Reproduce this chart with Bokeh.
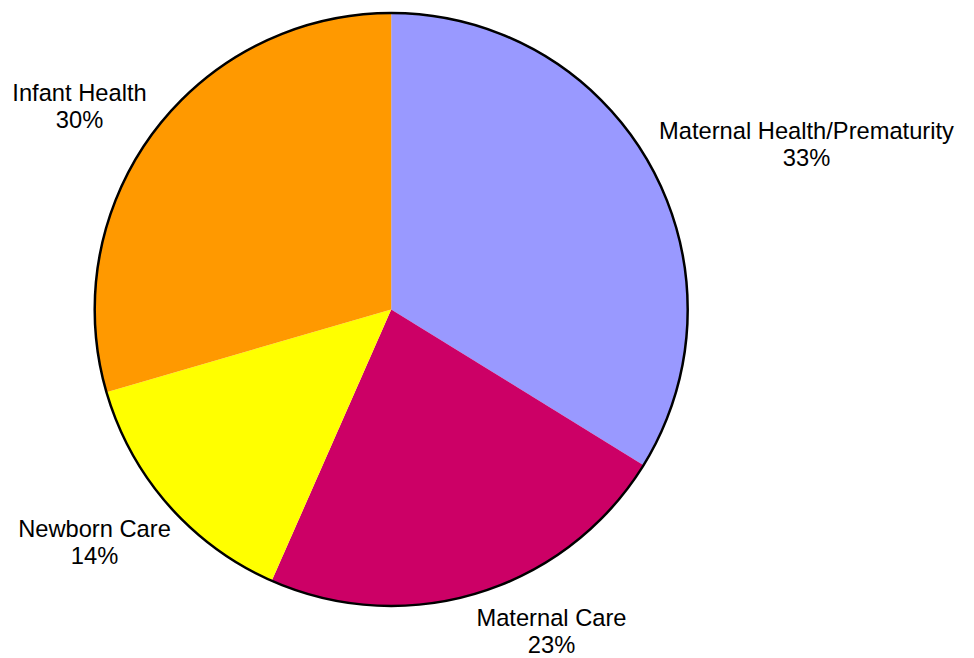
import math
from bokeh.plotting import figure
from bokeh.models import Range1d, ColumnDataSource
from bokeh.core.properties import value
from bokeh.embed import file_html
from bokeh.resources import INLINE

# Data
categories = ["Maternal Health/Prematurity", "Maternal Care", "Newborn Care", "Infant Health"]
shares = [33.8, 22.8, 13.9, 29.5]
pct_labels = ["33%", "23%", "14%", "30%"]
colors = ["#9999FF", "#CC0066", "#FFFF00", "#FF9900"]

# Layout (page pixel coordinates, y measured downward; y = vertical centre of first line)
W, H = 974, 658
cx, cy, r = 390.7, 309.0, 296.5
label_pos = [(806, 130), (551, 617.5), (94, 528), (79, 92)]
line_gap = [27.5, 26.5, 27.5, 27.5]

def Y(y):
    return H - y

total = sum(shares)
starts, ends = [], []
cum = 0.0
for s in shares:
    starts.append(math.pi / 2 - 2 * math.pi * cum / total)
    cum += s
    ends.append(math.pi / 2 - 2 * math.pi * cum / total)

src = ColumnDataSource(dict(
    start=starts, end=ends, color=colors, cat=categories, pct=pct_labels,
    lx=[p[0] for p in label_pos], ly1=[Y(p[1]) for p in label_pos],
    ly2=[Y(p[1] + g) for p, g in zip(label_pos, line_gap)],
))

p = figure(width=W, height=H, output_backend="svg", toolbar_location=None,
           x_range=Range1d(0, W), y_range=Range1d(0, H),
           min_border=0, min_border_left=0, min_border_right=0,
           min_border_top=0, min_border_bottom=0)
p.axis.visible = False
p.grid.visible = False
p.outline_line_color = None
p.background_fill_color = "white"
p.border_fill_color = "white"

p.wedge(x=cx, y=Y(cy), radius=r, start_angle="start", end_angle="end",
        direction="clock", fill_color="color", line_color=None, source=src)
p.circle(x=[cx], y=[Y(cy)], radius=r, fill_color=None, line_color="black", line_width=2.5)

font = value("Liberation Sans")
p.text(x="lx", y="ly1", text="cat", source=src, text_font=font, text_font_size="23.7px",
       text_align="center", text_baseline="middle", text_color="black")
p.text(x="lx", y="ly2", text="pct", source=src, text_font=font, text_font_size="23.7px",
       text_align="center", text_baseline="middle", text_color="black")

open("out.html", "w").write(file_html(p, INLINE))
